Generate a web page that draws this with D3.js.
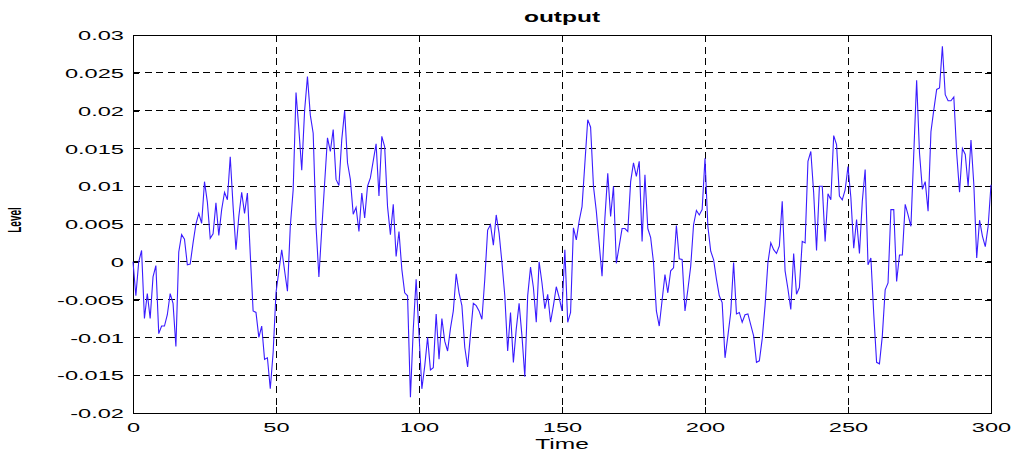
<!DOCTYPE html>
<html>
<head>
<meta charset="utf-8">
<title>output</title>
<script src="https://cdn.jsdelivr.net/npm/d3@7"></script>
<style>
  body { margin: 0; background: #fff; }
  text { font-family: "Liberation Sans", Arial, sans-serif; fill: #000; }
</style>
</head>
<body>
<script>
// time samples (a few steps have no visible kink and were skipped)
var time = [0,1,2,3,4,5,6,7,8,9,10,11,12,13,14,15,16,17,18,19,20,21,22,23,24,25,26,27,28,29,
  30,31,32,33,34,35,36,37,38,39,40,41,42,43,44,45,46,47,48,49,50,52,54,55,56,57,58,59,60,
  61,62,63,64,65,66,67,68,69,70,71,72,73,74,75,76,77,78,79,80,81,82,83,85,86,87,88,89,90,
  91,92,93,94,95,96,97,98,99,101,102,103,104,105,106,107,108,109,110,111,112,113,114,115,
  116,117,118,119,120,121,122,123,124,125,126,127,128,129,130,131,132,133,134,135,136,137,
  138,139,140,141,142,143,144,145,146,147,148,149,150,151,152,153,154,155,156,157,159,160,
  161,162,164,165,166,167,168,169,171,172,173,174,175,176,177,178,179,180,181,182,183,184,
  186,187,188,189,190,191,192,193,194,195,196,197,198,199,200,201,202,203,204,205,206,207,
  208,209,210,211,212,213,214,215,217,218,219,220,221,222,223,224,225,226,227,228,229,230,
  231,232,233,234,235,236,237,238,239,240,241,242,243,244,245,246,247,248,249,250,251,252,
  253,254,255,256,257,258,259,260,261,262,263,264,265,266,267,268,269,270,271,272,274,275,
  276,277,278,279,280,281,282,283,284,285,286,287,288,289,290,291,292,293,294,295,296,297,
  298,299,300];

var level = [0,-0.0045,0,0.0015,-0.0075,-0.0042,-0.0075,-0.002,-0.0005,-0.0095,-0.0085,-0.0085,
  -0.007,-0.0042,-0.0055,-0.0112,0.0013,0.0036,0.003,-0.0004,-0.0003,0.0025,0.005,0.0064,0.0051,
  0.0106,0.0079,0.0031,0.0037,0.0078,0.0035,0.0069,0.0092,0.0082,0.0139,0.0073,0.0016,0.006,
  0.0092,0.0064,0.0091,0.001,-0.0065,-0.0067,-0.01,-0.0085,-0.0129,-0.0127,-0.0168,-0.012,
  -0.0041,0.0016,-0.0039,0.0047,0.0095,0.0224,0.0175,0.0121,0.0200,0.0245,0.0194,0.0170,0.0047,
  -0.0020,0.0043,0.0104,0.0164,0.0146,0.0175,0.0109,0.0101,0.0162,0.0200,0.0131,0.0109,0.0063,
  0.0072,0.0040,0.0091,0.0058,0.0100,0.0111,0.0156,0.0087,0.0166,0.0152,0.0073,0.0036,0.0076,
  0.0007,0.0040,-0.0010,-0.0041,-0.0045,-0.0179,-0.0089,-0.0023,-0.0168,-0.0138,-0.0100,-0.0143,
  -0.0140,-0.0069,-0.0129,-0.0075,-0.0105,-0.0118,-0.0088,-0.0065,-0.0016,-0.0041,-0.0058,
  -0.0113,-0.0139,-0.0096,-0.0055,-0.0058,-0.0065,-0.0076,-0.0023,0.0042,0.0049,0.0022,0.0062,
  0.0038,-0.0001,-0.0045,-0.0118,-0.0067,-0.0133,-0.0089,-0.0055,-0.0098,-0.0152,-0.0045,
  -0.0007,-0.0034,-0.0080,0.0000,-0.0028,-0.0062,-0.0043,-0.0080,-0.0058,-0.0033,-0.0047,
  -0.0065,0.0016,-0.0080,-0.0067,0.0045,0.0029,0.0054,0.0073,0.0188,0.0178,0.0100,0.0067,
  -0.0019,0.0058,0.0117,0.0060,0.0100,-0.0002,0.0044,0.0044,0.0040,0.0106,0.0131,0.0113,0.0133,
  0.0027,0.0115,0.0044,0.0032,-0.0001,-0.0065,-0.0085,-0.0017,-0.0041,-0.0012,-0.0008,0.0048,
  0.0004,0.0003,-0.0065,-0.0037,-0.0006,0.0049,0.0068,0.0062,0.0069,0.0137,0.0047,0.0014,0.0003,
  -0.0023,-0.0045,-0.0054,-0.0127,-0.0098,-0.0067,-0.0001,-0.0069,-0.0067,-0.0080,-0.0070,
  -0.0069,-0.0098,-0.0133,-0.0131,-0.0102,-0.0058,-0.0001,0.0025,0.0016,0.0011,0.0021,0.0080,
  -0.0012,-0.0036,-0.0063,0.0011,-0.0043,-0.0034,0.0027,0.0025,0.0133,0.0146,0.0091,0.0015,
  0.0100,0.0100,0.0027,0.0090,0.0082,0.0167,0.0155,0.0087,0.0082,0.0095,0.0126,0.0085,0.0018,
  0.0056,0.0011,0.0080,0.0122,-0.0004,0.0005,-0.0069,-0.0133,-0.0135,-0.0098,-0.0037,-0.0028,
  0.0069,0.0069,-0.0026,0.0009,0.0009,0.0076,0.0062,0.0047,0.0240,0.0144,0.0096,0.0106,0.0067,
  0.0172,0.0201,0.0228,0.0230,0.0285,0.0221,0.0213,0.0213,0.0218,0.0144,0.0092,0.0150,0.0142,
  0.0100,0.0161,0.0102,0.0005,0.0055,0.0034,0.0020,0.0047,0.0102];

var xTicks = [0, 50, 100, 150, 200, 250, 300];
var yTicks = [-0.02, -0.015, -0.01, -0.005, 0, 0.005, 0.01, 0.015, 0.02, 0.025, 0.03];

var width = 1016, height = 457;
var pLeft = 133, pRight = 991, pTop = 35, pBottom = 413;
var sx = 1.75; // the picture is stretched sideways, text too

var svg = d3.select("body").append("svg")
  .attr("width", width)
  .attr("height", height);

svg.append("rect").attr("width", width).attr("height", height).attr("fill", "#fff");

var x = d3.scaleLinear().domain([0, 300]).range([pLeft, pRight]);
var y = d3.scaleLinear().domain([-0.02, 0.03]).range([pBottom, pTop]);

// dashed grid
var grid = svg.append("g")
  .attr("stroke", "#000")
  .attr("stroke-width", 1)
  .attr("stroke-dasharray", "7,4.7")
  .attr("shape-rendering", "crispEdges");
grid.selectAll(".gx").data(xTicks.slice(1, -1)).enter().append("line")
  .attr("x1", function(d){ return x(d); }).attr("x2", function(d){ return x(d); })
  .attr("y1", pTop).attr("y2", pBottom);
grid.selectAll(".gy").data(yTicks.slice(1, -1)).enter().append("line")
  .attr("y1", function(d){ return y(d); }).attr("y2", function(d){ return y(d); })
  .attr("x1", pLeft).attr("x2", pRight);

// axes: labels from d3, ticks pointing inward
var fmt = function(d){ return String(+d.toFixed(3)); };

var ax = svg.append("g")
  .attr("transform", "translate(0," + pBottom + ")")
  .call(d3.axisBottom(x).tickValues(xTicks).tickSize(-6).tickFormat(d3.format("d")));
var ay = svg.append("g")
  .attr("transform", "translate(" + pLeft + ",0)")
  .call(d3.axisLeft(y).tickValues(yTicks).tickSize(-6).tickFormat(fmt));
var at = svg.append("g")
  .attr("transform", "translate(0," + pTop + ")")
  .call(d3.axisTop(x).tickValues(xTicks).tickSize(-6).tickFormat(""));
var ar = svg.append("g")
  .attr("transform", "translate(" + pRight + ",0)")
  .call(d3.axisRight(y).tickValues(yTicks).tickSize(-6).tickFormat(""));

[ax, ay, at, ar].forEach(function(a){
  a.select(".domain").remove();
  a.selectAll("line").attr("stroke", "#000").attr("shape-rendering", "crispEdges");
});

ax.selectAll("text")
  .attr("font-size", 13.5)
  .attr("dy", null)
  .attr("y", 19)
  .attr("x", 0)
  .attr("transform", "scale(" + sx + ",1)");
ay.selectAll("text")
  .attr("font-size", 13.5)
  .attr("dy", "0.35em")
  .attr("x", -9 / sx)
  .attr("transform", "scale(" + sx + ",1)");

// frame
svg.append("rect")
  .attr("x", pLeft).attr("y", pTop)
  .attr("width", pRight - pLeft).attr("height", pBottom - pTop)
  .attr("fill", "none").attr("stroke", "#000").attr("stroke-width", 1)
  .attr("shape-rendering", "crispEdges");

// the signal
var pts = time.map(function(t, i){ return [t, level[i]]; });
var line = d3.line()
  .x(function(d){ return x(d[0]); })
  .y(function(d){ return y(d[1]); });
svg.append("path")
  .datum(pts)
  .attr("d", line)
  .attr("fill", "none")
  .attr("stroke", "#3a1cff")
  .attr("stroke-width", 1.1);

// titles
svg.append("text")
  .attr("transform", "translate(" + ((pLeft + pRight) / 2) + ",22) scale(" + sx + ",1)")
  .attr("text-anchor", "middle")
  .attr("font-size", 14)
  .attr("font-weight", "bold")
  .text("output");

svg.append("text")
  .attr("transform", "translate(" + ((pLeft + pRight) / 2) + ",449) scale(" + sx + ",1)")
  .attr("text-anchor", "middle")
  .attr("font-size", 14)
  .text("Time");

svg.append("text")
  .attr("transform", "translate(21,220) scale(1.8,1) rotate(-90)")
  .attr("text-anchor", "middle")
  .attr("font-size", 10)
  .attr("font-weight", "bold")
  .text("Level");
</script>
</body>
</html>
